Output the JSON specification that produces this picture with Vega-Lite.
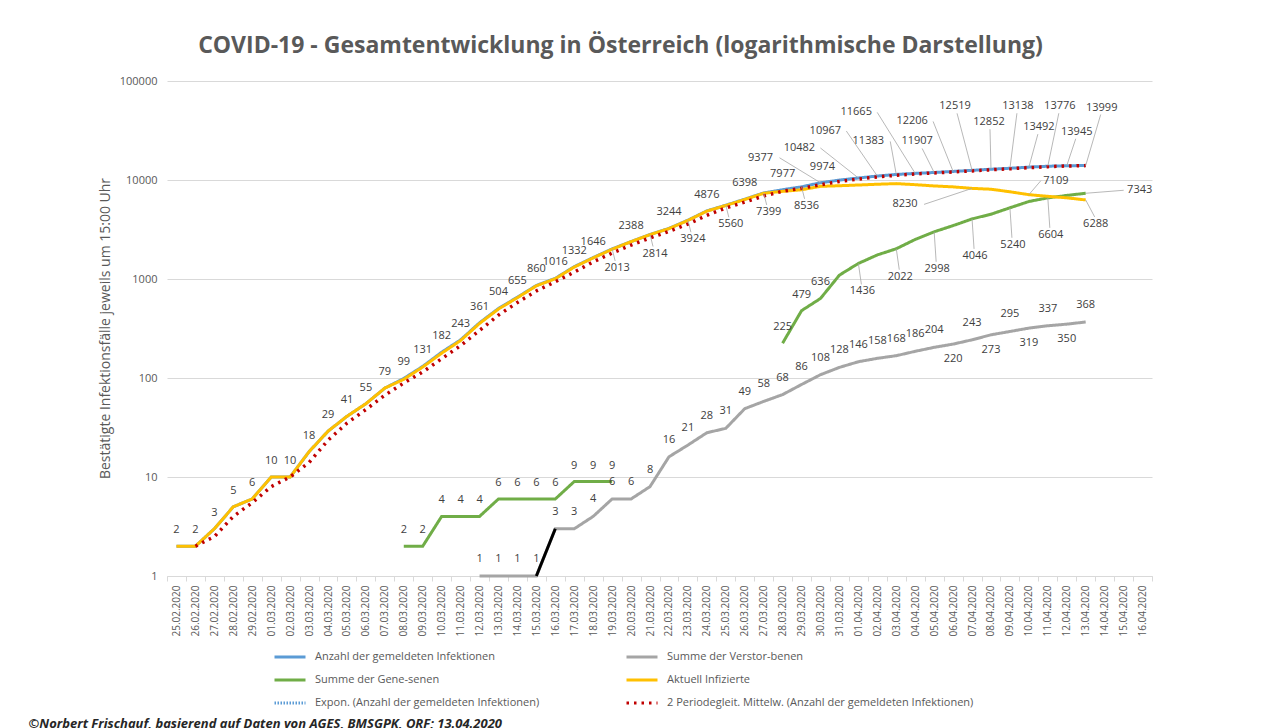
{
  "$schema": "https://vega.github.io/schema/vega-lite/v6.json",
  "width": 985,
  "height": 495,
  "autosize": {"type": "none"},
  "padding": {"left": 167, "top": 81, "right": 127, "bottom": 152},
  "background": "white",
  "title": {"text": "COVID-19 - Gesamtentwicklung in Österreich (logarithmische Darstellung)", "font": "Open Sans", "fontSize": 23, "fontWeight": "bold", "color": "#595959", "anchor": "middle", "frame": "group", "dx": -39, "offset": 17},
  "config": {
    "font": "Open Sans",
    "view": {"stroke": null},
    "axis": {"labelColor": "#595959", "titleColor": "#595959", "domainColor": "#D9D9D9", "tickColor": "#D9D9D9", "gridColor": "#D9D9D9"},
    "legend": {"symbolType": "stroke", "symbolSize": 961, "symbolStrokeWidth": 3, "labelFontSize": 11, "labelColor": "#595959", "labelLimit": 600, "rowPadding": 0, "columnPadding": 80, "labelOffset": 8},
    "line": {"strokeWidth": 3},
    "text": {"fontSize": 11, "color": "#404040", "baseline": "middle", "align": "center"},
    "rule": {"color": "#A6A6A6", "strokeWidth": 0.8}
  },
  "datasets": {
    "conf": [
      {"d":"25.02.2020","v":2},{"d":"26.02.2020","v":2},{"d":"27.02.2020","v":3},{"d":"28.02.2020","v":5},{"d":"29.02.2020","v":6},
      {"d":"01.03.2020","v":10},{"d":"02.03.2020","v":10},{"d":"03.03.2020","v":18},{"d":"04.03.2020","v":29},{"d":"05.03.2020","v":41},
      {"d":"06.03.2020","v":55},{"d":"07.03.2020","v":79},{"d":"08.03.2020","v":99},{"d":"09.03.2020","v":131},{"d":"10.03.2020","v":182},
      {"d":"11.03.2020","v":243},{"d":"12.03.2020","v":361},{"d":"13.03.2020","v":504},{"d":"14.03.2020","v":655},{"d":"15.03.2020","v":860},
      {"d":"16.03.2020","v":1016},{"d":"17.03.2020","v":1332},{"d":"18.03.2020","v":1646},{"d":"19.03.2020","v":2013},{"d":"20.03.2020","v":2388},
      {"d":"21.03.2020","v":2814},{"d":"22.03.2020","v":3244},{"d":"23.03.2020","v":3924},{"d":"24.03.2020","v":4876},{"d":"25.03.2020","v":5560},
      {"d":"26.03.2020","v":6398},{"d":"27.03.2020","v":7399},{"d":"28.03.2020","v":7977},{"d":"29.03.2020","v":8536},{"d":"30.03.2020","v":9377},
      {"d":"31.03.2020","v":9974},{"d":"01.04.2020","v":10482},{"d":"02.04.2020","v":10967},{"d":"03.04.2020","v":11383},{"d":"04.04.2020","v":11665},
      {"d":"05.04.2020","v":11907},{"d":"06.04.2020","v":12206},{"d":"07.04.2020","v":12519},{"d":"08.04.2020","v":12852},{"d":"09.04.2020","v":13138},
      {"d":"10.04.2020","v":13492},{"d":"11.04.2020","v":13776},{"d":"12.04.2020","v":13945},{"d":"13.04.2020","v":13999}
    ],
    "dead": [
      {"d":"12.03.2020","v":1},{"d":"13.03.2020","v":1},{"d":"14.03.2020","v":1},{"d":"15.03.2020","v":1},{"d":"16.03.2020","v":3},
      {"d":"17.03.2020","v":3},{"d":"18.03.2020","v":4},{"d":"19.03.2020","v":6},{"d":"20.03.2020","v":6},{"d":"21.03.2020","v":8},
      {"d":"22.03.2020","v":16},{"d":"23.03.2020","v":21},{"d":"24.03.2020","v":28},{"d":"25.03.2020","v":31},{"d":"26.03.2020","v":49},
      {"d":"27.03.2020","v":58},{"d":"28.03.2020","v":68},{"d":"29.03.2020","v":86},{"d":"30.03.2020","v":108},{"d":"31.03.2020","v":128},
      {"d":"01.04.2020","v":146},{"d":"02.04.2020","v":158},{"d":"03.04.2020","v":168},{"d":"04.04.2020","v":186},{"d":"05.04.2020","v":204},
      {"d":"06.04.2020","v":220},{"d":"07.04.2020","v":243},{"d":"08.04.2020","v":273},{"d":"09.04.2020","v":295},{"d":"10.04.2020","v":319},
      {"d":"11.04.2020","v":337},{"d":"12.04.2020","v":350},{"d":"13.04.2020","v":368}
    ],
    "recA": [
      {"d":"08.03.2020","v":2},{"d":"09.03.2020","v":2},{"d":"10.03.2020","v":4},{"d":"11.03.2020","v":4},{"d":"12.03.2020","v":4},
      {"d":"13.03.2020","v":6},{"d":"14.03.2020","v":6},{"d":"15.03.2020","v":6},{"d":"16.03.2020","v":6},{"d":"17.03.2020","v":9},
      {"d":"18.03.2020","v":9},{"d":"19.03.2020","v":9}
    ],
    "recB": [
      {"d":"28.03.2020","v":225},{"d":"29.03.2020","v":479},{"d":"30.03.2020","v":636},{"d":"31.03.2020","v":1095},{"d":"01.04.2020","v":1436},
      {"d":"02.04.2020","v":1750},{"d":"03.04.2020","v":2022},{"d":"04.04.2020","v":2507},{"d":"05.04.2020","v":2998},{"d":"06.04.2020","v":3463},
      {"d":"07.04.2020","v":4046},{"d":"08.04.2020","v":4512},{"d":"09.04.2020","v":5240},{"d":"10.04.2020","v":6064},{"d":"11.04.2020","v":6604},
      {"d":"12.04.2020","v":6987},{"d":"13.04.2020","v":7343}
    ],
    "act": [
      {"d":"25.02.2020","v":2},{"d":"26.02.2020","v":2},{"d":"27.02.2020","v":3},{"d":"28.02.2020","v":5},{"d":"29.02.2020","v":6},
      {"d":"01.03.2020","v":10},{"d":"02.03.2020","v":10},{"d":"03.03.2020","v":18},{"d":"04.03.2020","v":29},{"d":"05.03.2020","v":41},
      {"d":"06.03.2020","v":55},{"d":"07.03.2020","v":79},{"d":"08.03.2020","v":97},{"d":"09.03.2020","v":129},{"d":"10.03.2020","v":178},
      {"d":"11.03.2020","v":239},{"d":"12.03.2020","v":356},{"d":"13.03.2020","v":497},{"d":"14.03.2020","v":648},{"d":"15.03.2020","v":853},
      {"d":"16.03.2020","v":1007},{"d":"17.03.2020","v":1320},{"d":"18.03.2020","v":1633},{"d":"19.03.2020","v":1998},{"d":"20.03.2020","v":2382},
      {"d":"21.03.2020","v":2806},{"d":"22.03.2020","v":3228},{"d":"23.03.2020","v":3903},{"d":"24.03.2020","v":4848},{"d":"25.03.2020","v":5529},
      {"d":"26.03.2020","v":6349},{"d":"27.03.2020","v":7341},{"d":"28.03.2020","v":7684},{"d":"29.03.2020","v":7971},{"d":"30.03.2020","v":8633},
      {"d":"31.03.2020","v":8751},{"d":"01.04.2020","v":8900},{"d":"02.04.2020","v":9059},{"d":"03.04.2020","v":9193},{"d":"04.04.2020","v":8972},
      {"d":"05.04.2020","v":8705},{"d":"06.04.2020","v":8523},{"d":"07.04.2020","v":8230},{"d":"08.04.2020","v":8067},{"d":"09.04.2020","v":7603},
      {"d":"10.04.2020","v":7109},{"d":"11.04.2020","v":6835},{"d":"12.04.2020","v":6608},{"d":"13.04.2020","v":6288}
    ],
    "ma": [
      {"d":"26.02.2020","v":2},{"d":"27.02.2020","v":2.5},{"d":"28.02.2020","v":4},{"d":"29.02.2020","v":5.5},
      {"d":"01.03.2020","v":8},{"d":"02.03.2020","v":10},{"d":"03.03.2020","v":14},{"d":"04.03.2020","v":23.5},{"d":"05.03.2020","v":35},
      {"d":"06.03.2020","v":48},{"d":"07.03.2020","v":67},{"d":"08.03.2020","v":89},{"d":"09.03.2020","v":115},{"d":"10.03.2020","v":156.5},
      {"d":"11.03.2020","v":212.5},{"d":"12.03.2020","v":302},{"d":"13.03.2020","v":432.5},{"d":"14.03.2020","v":579.5},{"d":"15.03.2020","v":757.5},
      {"d":"16.03.2020","v":938},{"d":"17.03.2020","v":1174},{"d":"18.03.2020","v":1489},{"d":"19.03.2020","v":1829.5},{"d":"20.03.2020","v":2200.5},
      {"d":"21.03.2020","v":2601},{"d":"22.03.2020","v":3029},{"d":"23.03.2020","v":3584},{"d":"24.03.2020","v":4400},{"d":"25.03.2020","v":5218},
      {"d":"26.03.2020","v":5979},{"d":"27.03.2020","v":6898.5},{"d":"28.03.2020","v":7688},{"d":"29.03.2020","v":8256.5},{"d":"30.03.2020","v":8956.5},
      {"d":"31.03.2020","v":9675.5},{"d":"01.04.2020","v":10228},{"d":"02.04.2020","v":10724.5},{"d":"03.04.2020","v":11175},{"d":"04.04.2020","v":11524},
      {"d":"05.04.2020","v":11786},{"d":"06.04.2020","v":12056.5},{"d":"07.04.2020","v":12362.5},{"d":"08.04.2020","v":12685.5},{"d":"09.04.2020","v":12995},
      {"d":"10.04.2020","v":13315},{"d":"11.04.2020","v":13634},{"d":"12.04.2020","v":13860.5},{"d":"13.04.2020","v":13972}
    ]
  },
  "encoding": {
    "x": {"field": "d", "type": "ordinal", "bandPosition": 0.5,
      "scale": {"type": "band", "paddingInner": 0, "paddingOuter": 0, "domain": ["25.02.2020","26.02.2020","27.02.2020","28.02.2020","29.02.2020","01.03.2020","02.03.2020","03.03.2020","04.03.2020","05.03.2020","06.03.2020","07.03.2020","08.03.2020","09.03.2020","10.03.2020","11.03.2020","12.03.2020","13.03.2020","14.03.2020","15.03.2020","16.03.2020","17.03.2020","18.03.2020","19.03.2020","20.03.2020","21.03.2020","22.03.2020","23.03.2020","24.03.2020","25.03.2020","26.03.2020","27.03.2020","28.03.2020","29.03.2020","30.03.2020","31.03.2020","01.04.2020","02.04.2020","03.04.2020","04.04.2020","05.04.2020","06.04.2020","07.04.2020","08.04.2020","09.04.2020","10.04.2020","11.04.2020","12.04.2020","13.04.2020","14.04.2020","15.04.2020","16.04.2020"]},
      "axis": {"title": "©Norbert Frischauf, basierend auf Daten von AGES, BMSGPK, ORF; 13.04.2020", "titleFontSize": 13, "titleFontStyle": "italic", "titleFontWeight": "bold", "titleColor": "#262626", "titleX": -139, "titleY": 147, "titleAlign": "left", "titleBaseline": "middle", "titleAngle": 0,
        "labelAngle": 270, "labelFontSize": 10, "labelPadding": 4, "labelOverlap": false, "tickBand": "extent", "tickSize": 5, "grid": false}},
    "y": {"field": "v", "type": "quantitative",
      "scale": {"type": "log", "domain": [1, 100000], "nice": false},
      "axis": {"title": "Bestätigte Infektionsfälle jeweils um 15:00 Uhr", "titleFontSize": 14, "titleFontWeight": "normal", "titleX": -62, "titleY": 247, "titleAngle": 270, "titleAlign": "center", "titleBaseline": "middle",
        "values": [1, 10, 100, 1000, 10000, 100000], "format": "d", "labelFontSize": 11, "labelPadding": 10, "ticks": false, "domain": false, "grid": true}}
  },
  "layer": [
    {"data": {"name": "conf"}, "mark": {"type": "line"},
      "encoding": {
        "color": {"datum": "Anzahl der gemeldeten Infektionen", "type": "nominal",
          "scale": {"domain": ["Anzahl der gemeldeten Infektionen", "Summe der Gene-senen", "Expon. (Anzahl der gemeldeten Infektionen)", "Summe der Verstor-benen", "Aktuell Infizierte", "2 Periodegleit. Mittelw. (Anzahl der gemeldeten Infektionen)"],
            "range": ["#5B9BD5", "#70AD47", "#5B9BD5", "#A5A5A5", "#FFC000", "#C00000"]},
          "legend": {"title": null, "orient": "none", "legendX": 106, "legendY": 559, "columns": 2}},
        "strokeDash": {"datum": "Anzahl der gemeldeten Infektionen", "type": "nominal",
          "scale": {"domain": ["Anzahl der gemeldeten Infektionen", "Summe der Gene-senen", "Expon. (Anzahl der gemeldeten Infektionen)", "Summe der Verstor-benen", "Aktuell Infizierte", "2 Periodegleit. Mittelw. (Anzahl der gemeldeten Infektionen)"],
            "range": [[1, 0], [1, 0], [1.5, 1.5], [1, 0], [1, 0], [2.5, 5]]},
          "legend": {"title": null, "orient": "none", "legendX": 106, "legendY": 559, "columns": 2}}
      }},
    {"data": {"name": "dead"}, "mark": {"type": "line"},
      "encoding": {"color": {"datum": "Summe der Verstor-benen", "type": "nominal"}, "strokeDash": {"datum": "Summe der Verstor-benen", "type": "nominal"}}},
    {"data": {"name": "recA"}, "mark": {"type": "line"},
      "encoding": {"color": {"datum": "Summe der Gene-senen", "type": "nominal"}, "strokeDash": {"datum": "Summe der Gene-senen", "type": "nominal"}}},
    {"data": {"name": "recB"}, "mark": {"type": "line"},
      "encoding": {"color": {"datum": "Summe der Gene-senen", "type": "nominal"}, "strokeDash": {"datum": "Summe der Gene-senen", "type": "nominal"}}},
    {"data": {"name": "act"}, "mark": {"type": "line"},
      "encoding": {"color": {"datum": "Aktuell Infizierte", "type": "nominal"}, "strokeDash": {"datum": "Aktuell Infizierte", "type": "nominal"}}},
    {"data": {"name": "dead"}, "transform": [{"filter": {"field": "d", "oneOf": ["15.03.2020", "16.03.2020"]}}],
      "mark": {"type": "line", "color": "#000000"}, "encoding": {}},
    {"data": {"name": "ma"}, "mark": {"type": "line", "strokeWidth": 3.5},
      "encoding": {"color": {"datum": "2 Periodegleit. Mittelw. (Anzahl der gemeldeten Infektionen)", "type": "nominal"}, "strokeDash": {"datum": "2 Periodegleit. Mittelw. (Anzahl der gemeldeten Infektionen)", "type": "nominal"}}},

    {"data": {"name": "conf"}, "transform": [{"filter": {"field": "d", "oneOf": ["25.02.2020","26.02.2020","27.02.2020","28.02.2020","29.02.2020","01.03.2020","02.03.2020","03.03.2020","04.03.2020","05.03.2020","06.03.2020","07.03.2020","08.03.2020","09.03.2020","10.03.2020","11.03.2020","12.03.2020","13.03.2020","14.03.2020","15.03.2020","16.03.2020","17.03.2020","18.03.2020","20.03.2020","22.03.2020","24.03.2020","26.03.2020","28.03.2020"]}}],
      "mark": {"type": "text", "dy": -16}, "encoding": {"text": {"field": "v", "type": "quantitative", "format": "d"}}},
    {"data": {"name": "conf"}, "transform": [{"filter": {"field": "d", "oneOf": ["19.03.2020","21.03.2020","23.03.2020","25.03.2020","27.03.2020","29.03.2020"]}}],
      "layer": [
        {"mark": {"type": "rule", "x2Offset": 3, "y2Offset": 12}, "encoding": {"x2": {"field": "d"}, "y2": {"field": "v"}}},
        {"mark": {"type": "text", "dx": 5, "dy": 19}, "encoding": {"text": {"field": "v", "type": "quantitative", "format": "d"}}}
      ]},
    {"data": {"name": "conf"}, "transform": [{"filter": {"field": "d", "equal": "30.03.2020"}}],
      "layer": [
        {"mark": {"type": "rule", "x2Offset": -41, "y2Offset": -25}, "encoding": {"x2": {"field": "d"}, "y2": {"field": "v"}}},
        {"mark": {"type": "text", "dx": -60, "dy": -25}, "encoding": {"text": {"field": "v", "type": "quantitative", "format": "d"}}}
      ]},
    {"data": {"name": "conf"}, "transform": [{"filter": {"field": "d", "equal": "31.03.2020"}}],
      "mark": {"type": "text", "dx": -17, "dy": -13}, "encoding": {"text": {"field": "v", "type": "quantitative", "format": "d"}}},
    {"data": {"name": "conf"}, "transform": [{"filter": {"field": "d", "equal": "01.04.2020"}}],
      "layer": [
        {"mark": {"type": "rule", "x2Offset": -38, "y2Offset": -30}, "encoding": {"x2": {"field": "d"}, "y2": {"field": "v"}}},
        {"mark": {"type": "text", "dx": -59, "dy": -30}, "encoding": {"text": {"field": "v", "type": "quantitative", "format": "d"}}}
      ]},
    {"data": {"name": "conf"}, "transform": [{"filter": {"field": "d", "equal": "02.04.2020"}}],
      "layer": [
        {"mark": {"type": "rule", "x2Offset": -31, "y2Offset": -45}, "encoding": {"x2": {"field": "d"}, "y2": {"field": "v"}}},
        {"mark": {"type": "text", "dx": -52, "dy": -45}, "encoding": {"text": {"field": "v", "type": "quantitative", "format": "d"}}}
      ]},
    {"data": {"name": "conf"}, "transform": [{"filter": {"field": "d", "equal": "03.04.2020"}}],
      "layer": [
        {"mark": {"type": "rule", "x2Offset": -6, "y2Offset": -33}, "encoding": {"x2": {"field": "d"}, "y2": {"field": "v"}}},
        {"mark": {"type": "text", "dx": -28, "dy": -33}, "encoding": {"text": {"field": "v", "type": "quantitative", "format": "d"}}}
      ]},
    {"data": {"name": "conf"}, "transform": [{"filter": {"field": "d", "equal": "04.04.2020"}}],
      "layer": [
        {"mark": {"type": "rule", "x2Offset": -38, "y2Offset": -61}, "encoding": {"x2": {"field": "d"}, "y2": {"field": "v"}}},
        {"mark": {"type": "text", "dx": -59, "dy": -61}, "encoding": {"text": {"field": "v", "type": "quantitative", "format": "d"}}}
      ]},
    {"data": {"name": "conf"}, "transform": [{"filter": {"field": "d", "equal": "05.04.2020"}}],
      "layer": [
        {"mark": {"type": "rule", "x2Offset": -12, "y2Offset": -24}, "encoding": {"x2": {"field": "d"}, "y2": {"field": "v"}}},
        {"mark": {"type": "text", "dx": -17, "dy": -31}, "encoding": {"text": {"field": "v", "type": "quantitative", "format": "d"}}}
      ]},
    {"data": {"name": "conf"}, "transform": [{"filter": {"field": "d", "equal": "06.04.2020"}}],
      "layer": [
        {"mark": {"type": "rule", "x2Offset": -20, "y2Offset": -50}, "encoding": {"x2": {"field": "d"}, "y2": {"field": "v"}}},
        {"mark": {"type": "text", "dx": -41, "dy": -50}, "encoding": {"text": {"field": "v", "type": "quantitative", "format": "d"}}}
      ]},
    {"data": {"name": "conf"}, "transform": [{"filter": {"field": "d", "equal": "07.04.2020"}}],
      "layer": [
        {"mark": {"type": "rule", "x2Offset": -15, "y2Offset": -57}, "encoding": {"x2": {"field": "d"}, "y2": {"field": "v"}}},
        {"mark": {"type": "text", "dx": -17, "dy": -64}, "encoding": {"text": {"field": "v", "type": "quantitative", "format": "d"}}}
      ]},
    {"data": {"name": "conf"}, "transform": [{"filter": {"field": "d", "equal": "08.04.2020"}}],
      "layer": [
        {"mark": {"type": "rule", "x2Offset": -1, "y2Offset": -40}, "encoding": {"x2": {"field": "d"}, "y2": {"field": "v"}}},
        {"mark": {"type": "text", "dx": -2, "dy": -47}, "encoding": {"text": {"field": "v", "type": "quantitative", "format": "d"}}}
      ]},
    {"data": {"name": "conf"}, "transform": [{"filter": {"field": "d", "equal": "09.04.2020"}}],
      "layer": [
        {"mark": {"type": "rule", "x2Offset": 7, "y2Offset": -55}, "encoding": {"x2": {"field": "d"}, "y2": {"field": "v"}}},
        {"mark": {"type": "text", "dx": 8, "dy": -62}, "encoding": {"text": {"field": "v", "type": "quantitative", "format": "d"}}}
      ]},
    {"data": {"name": "conf"}, "transform": [{"filter": {"field": "d", "equal": "10.04.2020"}}],
      "layer": [
        {"mark": {"type": "rule", "x2Offset": 9, "y2Offset": -33}, "encoding": {"x2": {"field": "d"}, "y2": {"field": "v"}}},
        {"mark": {"type": "text", "dx": 10, "dy": -40}, "encoding": {"text": {"field": "v", "type": "quantitative", "format": "d"}}}
      ]},
    {"data": {"name": "conf"}, "transform": [{"filter": {"field": "d", "equal": "11.04.2020"}}],
      "layer": [
        {"mark": {"type": "rule", "x2Offset": 11, "y2Offset": -53}, "encoding": {"x2": {"field": "d"}, "y2": {"field": "v"}}},
        {"mark": {"type": "text", "dx": 12, "dy": -60}, "encoding": {"text": {"field": "v", "type": "quantitative", "format": "d"}}}
      ]},
    {"data": {"name": "conf"}, "transform": [{"filter": {"field": "d", "equal": "12.04.2020"}}],
      "layer": [
        {"mark": {"type": "rule", "x2Offset": 9, "y2Offset": -27}, "encoding": {"x2": {"field": "d"}, "y2": {"field": "v"}}},
        {"mark": {"type": "text", "dx": 10, "dy": -34}, "encoding": {"text": {"field": "v", "type": "quantitative", "format": "d"}}}
      ]},
    {"data": {"name": "conf"}, "transform": [{"filter": {"field": "d", "equal": "13.04.2020"}}],
      "layer": [
        {"mark": {"type": "rule", "x2Offset": 15, "y2Offset": -51}, "encoding": {"x2": {"field": "d"}, "y2": {"field": "v"}}},
        {"mark": {"type": "text", "dx": 16, "dy": -58}, "encoding": {"text": {"field": "v", "type": "quantitative", "format": "d"}}}
      ]},

    {"data": {"name": "act"}, "transform": [{"filter": {"field": "d", "equal": "07.04.2020"}}],
      "layer": [
        {"mark": {"type": "rule", "x2Offset": -48, "y2Offset": 16}, "encoding": {"x2": {"field": "d"}, "y2": {"field": "v"}}},
        {"mark": {"type": "text", "dx": -67, "dy": 16}, "encoding": {"text": {"field": "v", "type": "quantitative", "format": "d"}}}
      ]},
    {"data": {"name": "act"}, "transform": [{"filter": {"field": "d", "equal": "10.04.2020"}}],
      "layer": [
        {"mark": {"type": "rule", "x2Offset": 12, "y2Offset": -14}, "encoding": {"x2": {"field": "d"}, "y2": {"field": "v"}}},
        {"mark": {"type": "text", "dx": 27, "dy": -14}, "encoding": {"text": {"field": "v", "type": "quantitative", "format": "d"}}}
      ]},
    {"data": {"name": "act"}, "transform": [{"filter": {"field": "d", "equal": "13.04.2020"}}],
      "layer": [
        {"mark": {"type": "rule", "x2Offset": 9, "y2Offset": 17}, "encoding": {"x2": {"field": "d"}, "y2": {"field": "v"}}},
        {"mark": {"type": "text", "dx": 10, "dy": 24}, "encoding": {"text": {"field": "v", "type": "quantitative", "format": "d"}}}
      ]},

    {"data": {"name": "recA"},
      "mark": {"type": "text", "dy": -16}, "encoding": {"text": {"field": "v", "type": "quantitative", "format": "d"}}},
    {"data": {"name": "recB"}, "transform": [{"filter": {"field": "d", "oneOf": ["28.03.2020","29.03.2020","30.03.2020"]}}],
      "mark": {"type": "text", "dy": -16}, "encoding": {"text": {"field": "v", "type": "quantitative", "format": "d"}}},
    {"data": {"name": "recB"}, "transform": [{"filter": {"field": "d", "oneOf": ["01.04.2020","03.04.2020"]}}],
      "layer": [
        {"mark": {"type": "rule", "x2Offset": 3, "y2Offset": 21}, "encoding": {"x2": {"field": "d"}, "y2": {"field": "v"}}},
        {"mark": {"type": "text", "dx": 4, "dy": 28}, "encoding": {"text": {"field": "v", "type": "quantitative", "format": "d"}}}
      ]},
    {"data": {"name": "recB"}, "transform": [{"filter": {"field": "d", "oneOf": ["05.04.2020","07.04.2020","09.04.2020","11.04.2020"]}}],
      "layer": [
        {"mark": {"type": "rule", "x2Offset": 2, "y2Offset": 30}, "encoding": {"x2": {"field": "d"}, "y2": {"field": "v"}}},
        {"mark": {"type": "text", "dx": 3, "dy": 37}, "encoding": {"text": {"field": "v", "type": "quantitative", "format": "d"}}}
      ]},
    {"data": {"name": "recB"}, "transform": [{"filter": {"field": "d", "equal": "13.04.2020"}}],
      "layer": [
        {"mark": {"type": "rule", "x2Offset": 38, "y2Offset": -3}, "encoding": {"x2": {"field": "d"}, "y2": {"field": "v"}}},
        {"mark": {"type": "text", "dx": 54, "dy": -3}, "encoding": {"text": {"field": "v", "type": "quantitative", "format": "d"}}}
      ]},

    {"data": {"name": "dead"}, "transform": [{"filter": {"not": {"field": "d", "oneOf": ["06.04.2020","08.04.2020","10.04.2020","12.04.2020"]}}}],
      "mark": {"type": "text", "dy": -17}, "encoding": {"text": {"field": "v", "type": "quantitative", "format": "d"}}},
    {"data": {"name": "dead"}, "transform": [{"filter": {"field": "d", "oneOf": ["06.04.2020","08.04.2020","10.04.2020","12.04.2020"]}}],
      "mark": {"type": "text", "dy": 15}, "encoding": {"text": {"field": "v", "type": "quantitative", "format": "d"}}}
  ]
}
